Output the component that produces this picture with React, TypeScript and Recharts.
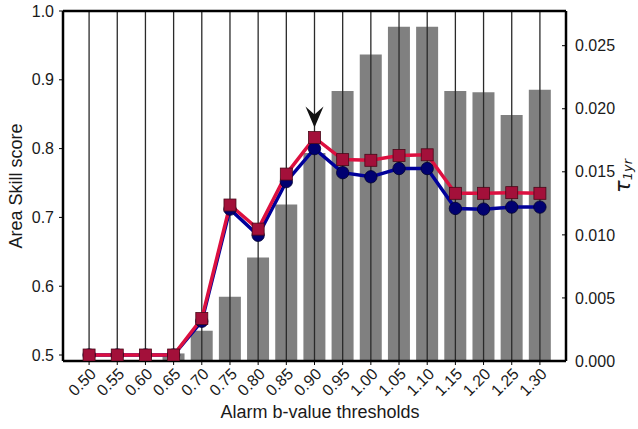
import React from "react";
import {
  ComposedChart,
  Bar,
  Line,
  XAxis,
  YAxis,
  ReferenceLine,
  ReferenceDot,
} from "recharts";

// Alarm b-value thresholds
const thresholds = [
  "0.50", "0.55", "0.60", "0.65", "0.70", "0.75", "0.80", "0.85", "0.90",
  "0.95", "1.00", "1.05", "1.10", "1.15", "1.20", "1.25", "1.30",
];

// tau_1yr (right axis, grey bars)
const tau1yr = [
  0, 0, 0, 0.0006, 0.0024, 0.0051, 0.0082, 0.0124, 0.0165,
  0.0214, 0.0243, 0.0265, 0.0265, 0.0214, 0.0213, 0.0195, 0.0215,
];

// Area Skill score, square markers
const areaSkillSquares = [
  0.5, 0.5, 0.5, 0.5, 0.553, 0.718, 0.683, 0.763, 0.816,
  0.784, 0.783, 0.79, 0.791, 0.735, 0.735, 0.736, 0.735,
];

// Area Skill score, circle markers
const areaSkillCircles = [
  0.5, 0.5, 0.5, 0.5, 0.549, 0.712, 0.674, 0.752, 0.8,
  0.765, 0.759, 0.771, 0.771, 0.713, 0.712, 0.715, 0.715,
];

const leftTicks = [0.5, 0.6, 0.7, 0.8, 0.9, 1.0];
const rightTicks = [0, 0.005, 0.01, 0.015, 0.02, 0.025];
const bestThreshold = "0.90";

const data = thresholds.map((b, i) => ({
  b,
  tau: tau1yr[i],
  sq: areaSkillSquares[i],
  ci: areaSkillCircles[i],
}));

const FONT = "'Liberation Sans', Arial, sans-serif";
const TEXT = "#1a1a1a";

const XTick = (props: any) => {
  const { x, y, payload } = props;
  const ax = x + 8;
  const ay = y + 8;
  return (
    <text
      x={ax}
      y={ay}
      transform={`rotate(-45, ${ax}, ${ay})`}
      textAnchor="end"
      fontFamily={FONT}
      fontSize={16}
      fill={TEXT}
    >
      {payload.value}
    </text>
  );
};

const Square = (props: any) => {
  const { cx, cy } = props;
  if (cx == null || cy == null) return null;
  return (
    <rect x={cx - 6} y={cy - 6} width={12} height={12} fill="#a3103a" stroke="#4a0818" strokeWidth={0.8} />
  );
};

const Circle = (props: any) => {
  const { cx, cy } = props;
  if (cx == null || cy == null) return null;
  return <circle cx={cx} cy={cy} r={6.2} fill="#000070" stroke="#000030" strokeWidth={0.8} />;
};

const Arrow = (props: any) => {
  const { cx, cy } = props;
  if (cx == null || cy == null) return null;
  const t = cy - 10;
  return (
    <path
      d={`M ${cx} ${t} L ${cx - 9} ${t - 21} L ${cx} ${t - 13} L ${cx + 9} ${t - 21} Z`}
      fill="#111"
    />
  );
};

const XLabel = () => (
  <text x={320} y={418} textAnchor="middle" fontFamily={FONT} fontSize={18} fill={TEXT}>
    Alarm b-value thresholds
  </text>
);

const LeftLabel = () => {
  const x = 22;
  const y = 186;
  return (
    <text
      x={x}
      y={y}
      transform={`rotate(-90, ${x}, ${y})`}
      textAnchor="middle"
      fontFamily={FONT}
      fontSize={18}
      fill={TEXT}
    >
      Area Skill score
    </text>
  );
};

const TauLabel = () => {
  const x = 630;
  const y = 176;
  return (
    <text
      x={x}
      y={y}
      transform={`rotate(-90, ${x}, ${y})`}
      textAnchor="middle"
      fontFamily="'DejaVu Sans', sans-serif"
      fontStyle="italic"
      fill={TEXT}
    >
      <tspan fontSize={21}>τ</tspan>
      <tspan fontSize={13} dy={2}>1yr</tspan>
    </text>
  );
};

export default function App() {
  return (
    <div style={{ position: "absolute", left: 0, top: 0, background: "#fff" }}>
      <ComposedChart
        width={638}
        height={429}
        data={data}
        margin={{ top: 11, right: 0, bottom: 0, left: 0 }}
      >
        <XAxis
          dataKey="b"
          type="category"
          padding={{ left: 12, right: 12 }}
          height={68}
          interval={0}
          tick={<XTick />}
          tickSize={4}
          tickLine={{ stroke: "#000", strokeWidth: 1 }}
          axisLine={{ stroke: "#000", strokeWidth: 2.5 }}
          label={<XLabel />}
        />
        <YAxis
          yAxisId="left"
          orientation="left"
          width={63}
          domain={[0.4913, 1.0]}
          ticks={leftTicks}
          allowDataOverflow
          tickFormatter={(v: number) => v.toFixed(1)}
          tickSize={4}
          tickMargin={5}
          tick={{ fontFamily: FONT, fontSize: 16, fill: TEXT }}
          tickLine={{ stroke: "#000", strokeWidth: 1 }}
          axisLine={{ stroke: "#000", strokeWidth: 2.5 }}
          label={<LeftLabel />}
        />
        <YAxis
          yAxisId="right"
          orientation="right"
          width={72}
          domain={[0, 0.02775]}
          ticks={rightTicks}
          allowDataOverflow
          tickFormatter={(v: number) => v.toFixed(3)}
          tickSize={-4}
          tickMargin={13}
          tick={{ fontFamily: FONT, fontSize: 16, fill: TEXT, textAnchor: "start" }}
          tickLine={{ stroke: "#000", strokeWidth: 1 }}
          axisLine={{ stroke: "#000", strokeWidth: 2.5 }}
          label={<TauLabel />}
        />
        <Bar
          yAxisId="right"
          dataKey="tau"
          fill="#808080"
          barSize={22}
          isAnimationActive={false}
        />
        {thresholds.map((b) => (
          <ReferenceLine
            key={b}
            yAxisId="left"
            x={b}
            stroke="#2a2a2a"
            strokeWidth={1.3}
          />
        ))}
        <ReferenceLine yAxisId="left" y={1.0} stroke="#000" strokeWidth={2.5} />
        <Line
          yAxisId="left"
          dataKey="ci"
          stroke="#00009a"
          strokeWidth={3.5}
          dot={<Circle />}
          activeDot={false}
          isAnimationActive={false}
        />
        <Line
          yAxisId="left"
          dataKey="sq"
          stroke="#dc1040"
          strokeWidth={3.5}
          dot={<Square />}
          activeDot={false}
          isAnimationActive={false}
        />
        <ReferenceDot
          yAxisId="left"
          x={bestThreshold}
          y={areaSkillSquares[thresholds.indexOf(bestThreshold)]}
          shape={<Arrow />}
        />
      </ComposedChart>
    </div>
  );
}
